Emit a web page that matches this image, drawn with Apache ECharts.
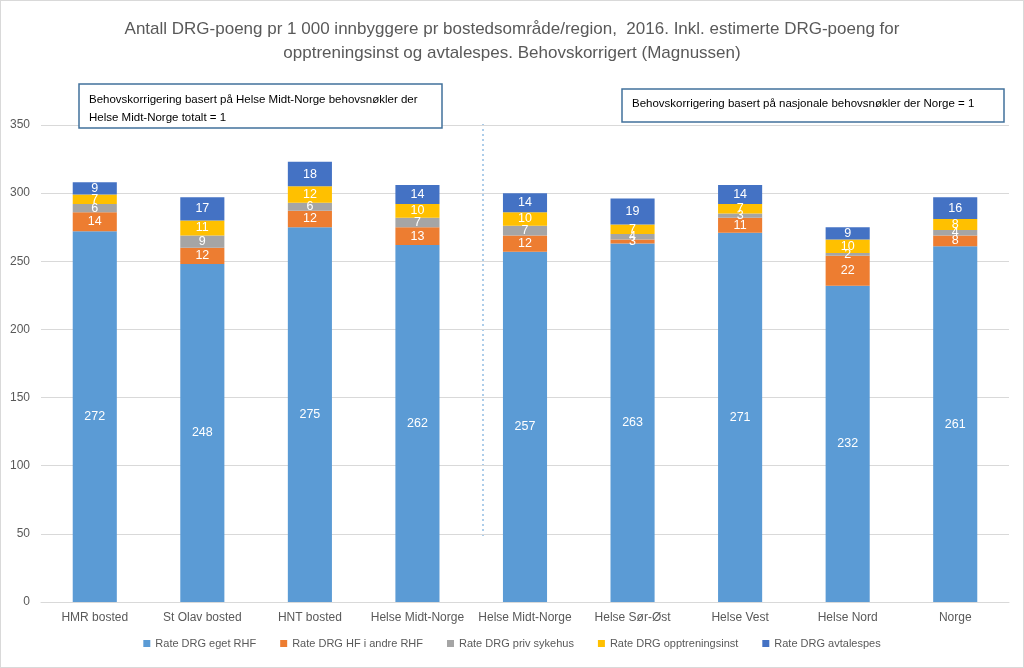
<!DOCTYPE html>
<html><head><meta charset="utf-8">
<script src="https://cdn.jsdelivr.net/npm/echarts@6/dist/echarts.min.js"></script>
<style>html,body{margin:0;padding:0;background:#fff}#c{width:1022px;height:666px;border:1px solid #d9d9d9}</style>
</head><body><div id="c"></div>
<script>
const categories = ['HMR bosted','St Olav bosted','HNT bosted','Helse Midt-Norge','Helse Midt-Norge','Helse Sør-Øst','Helse Vest','Helse Nord','Norge'];
const egetRHF = [272,248,275,262,257,263,271,232,261];
const hfAndreRHF = [14,12,12,13,12,3,11,22,8];
const privSykehus = [6,9,6,7,7,4,3,2,4];
const opptreningsinst = [7,11,12,10,10,7,7,10,8];
const avtalespes = [9,17,18,14,14,19,14,9,16];
const seriesNames = ['Rate DRG eget RHF','Rate DRG HF i andre RHF','Rate DRG priv sykehus','Rate DRG opptreningsinst','Rate DRG avtalespes'];
const colors = ['#5b9bd5','#ed7d31','#a5a5a5','#ffc000','#4472c4'];
const yTicks = [0,50,100,150,200,250,300,350];

const FONT = "'Liberation Sans','Open Sans',sans-serif";
const chart = echarts.init(document.getElementById('c'));
const data = [egetRHF,hfAndreRHF,privSykehus,opptreningsinst,avtalespes];
chart.setOption({
  animation:false,
  color: colors,
  textStyle:{fontFamily:FONT},
  title:{text:'Antall DRG-poeng pr 1 000 innbyggere pr bostedsområde/region,  2016. Inkl. estimerte DRG-poeng for\nopptreningsinst og avtalespes. Behovskorrigert (Magnussen)',
    left:'center', top:11, textStyle:{fontFamily:FONT,fontSize:17,fontWeight:'normal',color:'#595959',lineHeight:24}},
  grid:{left:40,right:14,top:124,bottom:65},
  legend:{bottom:13,left:'center',itemWidth:7,itemHeight:7,itemGap:24,icon:'rect',
    textStyle:{fontFamily:FONT,fontSize:11,color:'#595959'},data:seriesNames},
  xAxis:{type:'category',data:categories,axisTick:{show:false},
    axisLine:{lineStyle:{color:'#d9d9d9'}},
    axisLabel:{interval:0,fontFamily:FONT,fontSize:12,color:'#595959',margin:10}},
  yAxis:{type:'value',min:yTicks[0],max:yTicks[yTicks.length-1],interval:50,
    axisLabel:{fontFamily:FONT,fontSize:12,color:'#595959',margin:11},
    splitLine:{lineStyle:{color:'#d9d9d9'}},axisLine:{show:false},axisTick:{show:false}},
  series: seriesNames.map((n,i)=>({name:n,type:'bar',stack:'s',barWidth:'41%',data:data[i],
    label:{show:true,position:'inside',color:'#fff',fontFamily:FONT,fontSize:12.5}})),
  graphic:[
    {type:'line',shape:{x1:482,y1:123,x2:482,y2:535},style:{stroke:'#5b9bd5',lineWidth:1,lineDash:[2,3]}},
    {type:'rect',shape:{x:78,y:83,width:363,height:44},style:{fill:'#fff',stroke:'#41719c',lineWidth:1.5},z:100},
    {type:'text',x:88,y:90,style:{text:'Behovskorrigering basert på Helse Midt-Norge behovsnøkler der\nHelse Midt-Norge totalt = 1',font:"11.5px "+FONT,fill:'#000',lineHeight:18},z:101},
    {type:'rect',shape:{x:621,y:88,width:382,height:33},style:{fill:'#fff',stroke:'#41719c',lineWidth:1.5},z:100},
    {type:'text',x:631,y:97,style:{text:'Behovskorrigering basert på nasjonale behovsnøkler der Norge = 1',font:"11.5px "+FONT,fill:'#000'},z:101}
  ]
});
</script></body></html>
